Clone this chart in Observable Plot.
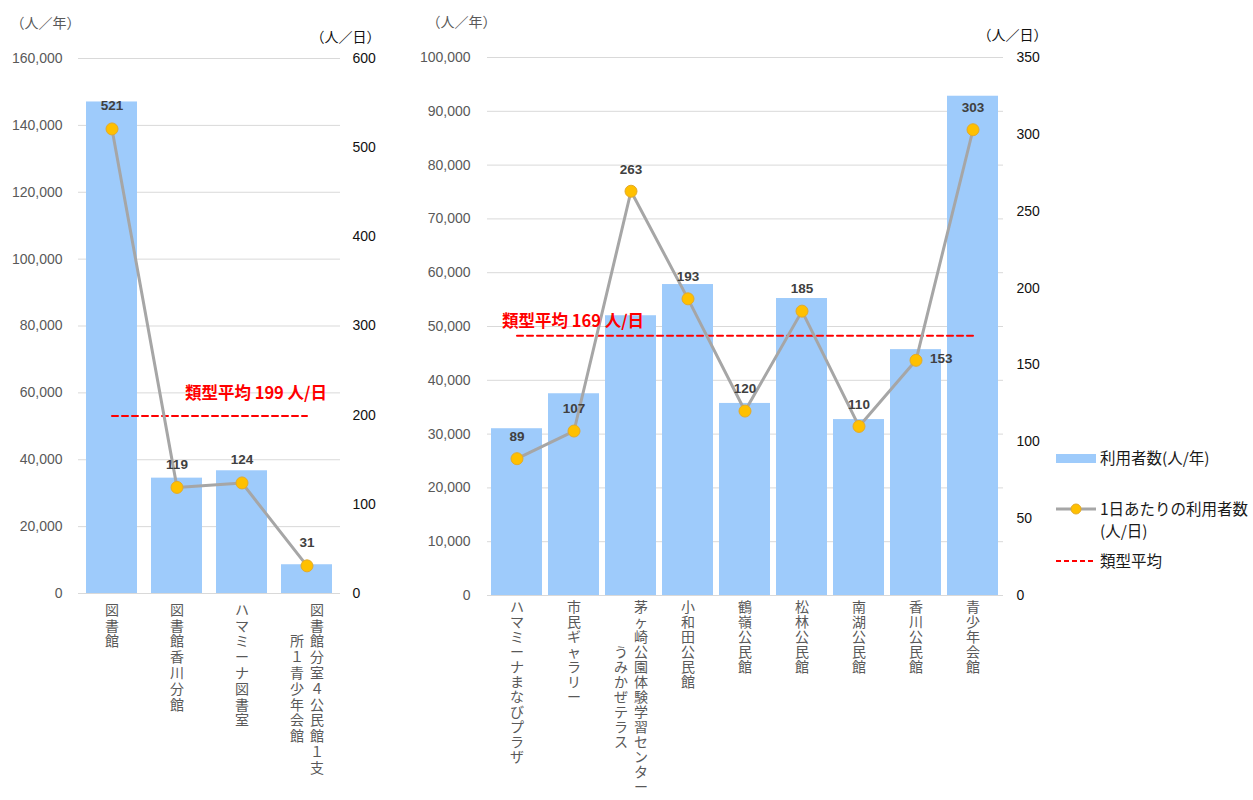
<!DOCTYPE html>
<html><head><meta charset="utf-8">
<script src="https://cdn.jsdelivr.net/npm/d3@7"></script>
<script src="https://cdn.jsdelivr.net/npm/@observablehq/plot@0.6"></script>
<style>
body{margin:0;background:#fff;font-family:"Liberation Sans","Noto Sans CJK JP",sans-serif;}
#wrap{position:relative;width:1253px;height:800px;overflow:hidden;}
#wrap svg.chart{position:absolute;top:0;}
#legend{position:absolute;left:1056px;top:440px;font-size:15.5px;color:#1a1a1a;font-family:"Noto Sans CJK JP",sans-serif;}
.li{position:absolute;left:0;white-space:nowrap;}
</style>
</head><body>
<div id="wrap"></div>
<script>
// ---- data ----
const leftCats = ["図書館","図書館香川分館","ハマミーナ図書室","図書館分室４公民館１支所１青少年会館"];
const leftLines = [["図書館"],["図書館香川分館"],["ハマミーナ図書室"],["図書館分室４公民館１支","所１青少年会館"]];
const leftYear = [147000, 34500, 36700, 8600];
const leftDay = [521, 119, 124, 31];
const leftAvg = 199;
const leftYTicks = [0,20000,40000,60000,80000,100000,120000,140000,160000];
const leftDayTicks = [0,100,200,300,400,500,600];

const rightCats = ["ハマミーナまなびプラザ","市民ギャラリー","茅ヶ崎公園体験学習センターうみかぜテラス","小和田公民館","鶴嶺公民館","松林公民館","南湖公民館","香川公民館","青少年会館"];
const rightLines = [["ハマミーナまなびプラザ"],["市民ギャラリー"],["茅ヶ崎公園体験学習センター","うみかぜテラス"],["小和田公民館"],["鶴嶺公民館"],["松林公民館"],["南湖公民館"],["香川公民館"],["青少年会館"]];
const rightYear = [31000, 37500, 52000, 57800, 35700, 55200, 32700, 45700, 92800];
const rightDay = [89, 107, 263, 193, 120, 185, 110, 153, 303];
const rightAvg = 169;
const rightYTicks = [0,10000,20000,30000,40000,50000,60000,70000,80000,90000,100000];
const rightDayTicks = [0,50,100,150,200,250,300,350];

const unitYear = "（人／年）";
const unitDay = "（人／日）";
const avgLabel = v => `類型平均 ${v} 人/日`;

const FONT = "'Liberation Sans','Noto Sans CJK JP',sans-serif";
const JFONT = "'Noto Sans CJK JP',sans-serif";
const vert = s => [...s].join("\n");   // stack characters for vertical Japanese labels

function makeChart(o){
  const factor = o.yMax / o.dayMax;
  const rows = o.cats.map((c,i)=>({cat:c, year:o.year[i], day:o.day[i], dayS:o.day[i]*factor}));
  const sideSet = new Set(o.sideLabels || []);
  const labRows = [];
  o.lines.forEach((ls,i)=>ls.forEach((t,j)=>labRows.push({cat:o.cats[i], text:t, j, n:ls.length, len0:[...ls[0]].length, len:[...t].length})));
  const fs = 14, lh = o.lh, pitch = fs*lh;
  const single = labRows.filter(d=>d.n===1);
  const col0 = labRows.filter(d=>d.n>1 && d.j===0);
  const col1 = labRows.filter(d=>d.j===1);
  const l1dy = col1.length ? (col1[0].len0 - col1[0].len)/2*pitch : 0;
  const avgPts = [{cat:o.cats[0], v:o.avg*factor},{cat:o.cats[o.cats.length-1], v:o.avg*factor}];
  const labOpts = {x:"cat", text:d=>vert(d.text), frameAnchor:"bottom", lineAnchor:"top", lineHeight:lh, fill:"#595959", fontFamily:JFONT, fontSize:fs, ariaLabel:"xlab"};
  const valOpts = {x:"cat", y:"dayS", text:d=>String(d.day), fill:"#404040", fontWeight:"bold", fontSize:13.5};
  const svg = Plot.plot({
    width:o.width, height:800,
    marginTop:o.mt, marginBottom:o.mb, marginLeft:o.ml, marginRight:o.mr,
    style:{fontFamily:FONT, fontSize:"14px", background:"transparent", overflow:"visible"},
    x:{domain:o.cats, paddingInner:o.pi, paddingOuter:o.po, axis:null},
    y:{domain:[0,o.yMax], axis:null},
    marks:[
      Plot.gridY(o.yTicks, {stroke:"#d9d9d9", strokeOpacity:1, strokeWidth:1}),
      Plot.barY(rows, {x:"cat", y:"year", fill:"#9ecbfb"}),
      Plot.axisY(o.yTicks, {anchor:"left", tickSize:0, tickPadding:o.lp, tickFormat:d3.format(","), color:"#595959", fontSize:14}),
      Plot.axisY(o.dayTicks.map(v=>v*factor), {anchor:"right", tickSize:0, tickPadding:o.rp, tickFormat:d=>String(Math.round(d/factor)), color:"#111", textAnchor:"start", fontSize:14}),
      Plot.line(avgPts, {x:"cat", y:"v", stroke:"#ff0000", strokeWidth:2, strokeDasharray:"6,4"}),
      Plot.line(rows, {x:"cat", y:"dayS", stroke:"#a6a6a6", strokeWidth:3}),
      Plot.dot(rows, {x:"cat", y:"dayS", r:6, fill:"#ffc000", stroke:"#e3aa2a", strokeWidth:1}),
      Plot.text(rows.filter(d=>!sideSet.has(d.cat)), {...valOpts, dy:o.ldy}),
      Plot.text(rows.filter(d=>sideSet.has(d.cat)), {...valOpts, textAnchor:"start", dx:14, dy:-2}),
      Plot.text([avgLabel(o.avg)], {x:()=>o.avgAt==="end"?o.cats[o.cats.length-1]:o.cats[0], y:()=>o.avg*factor, text:d=>d, textAnchor:o.avgAt, dx:o.adx, dy:o.ady, fill:"#ff0000", fontWeight:"bold", fontSize:16.5, fontFamily:JFONT}),
      Plot.text([unitYear], {frameAnchor:"top-left", text:d=>d, textAnchor:"start", dx:o.uyDx, dy:-40, fill:"#595959", fontFamily:JFONT, fontSize:14}),
      Plot.text([unitDay], {frameAnchor:"top-right", text:d=>d, textAnchor:"end", dx:o.udDx, dy:o.udDy, fill:"#111", fontFamily:JFONT, fontSize:14}),
      Plot.text(single, {...labOpts, dy:o.xdy}),
      Plot.text(col0, {...labOpts, dy:o.xdy, dx:10}),
      Plot.text(col1, {...labOpts, dy:o.xdy + l1dy, dx:-10})
    ]
  });
  svg.classList.add("chart");
  svg.style.left = o.left + "px";
  // turn long-vowel marks upright-vertical as in vertical Japanese typesetting
  d3.select(svg).selectAll('g[aria-label="xlab"] tspan').each(function(){
    if (this.textContent !== "ー") return;
    const t = d3.select(this);
    t.attr("rotate", 90).attr("dx", "0.12em");
    const y = t.attr("y");
    if (y && /em$/.test(y)) t.attr("y", (parseFloat(y) - 0.88).toFixed(3) + "em");
    else t.attr("dy", "-0.88em");
  });
  return svg;
}

const wrap = document.getElementById("wrap");
wrap.appendChild(makeChart({
  cats:leftCats, lines:leftLines, year:leftYear, day:leftDay, avg:leftAvg,
  yMax:160000, dayMax:600, yTicks:leftYTicks, dayTicks:leftDayTicks,
  width:400, left:0, mt:58, mb:207, ml:78, mr:60, pi:0.22, po:0.1, lh:1.13,
  lp:16, rp:12, ldy:-23, avgAt:"end", adx:20, ady:-22, uyDx:-68, udDx:40, udDy:-26, xdy:10
}));
wrap.appendChild(makeChart({
  cats:rightCats, lines:rightLines, year:rightYear, day:rightDay, avg:rightAvg,
  yMax:100000, dayMax:350, yTicks:rightYTicks, dayTicks:rightDayTicks, sideLabels:["香川公民館"],
  width:660, left:400, mt:57, mb:205, ml:87, mr:57, pi:0.1, po:0.05, lh:1.07,
  lp:17, rp:13, ldy:-22, avgAt:"start", adx:-15, ady:-14, uyDx:-61, udDx:44, udDy:-27, xdy:6
}));

const legend = document.createElement("div");
legend.id = "legend";
legend.innerHTML = `
<div class="li" style="top:14px;width:40px;height:9px;background:#9ecbfb;"></div>
<div class="li" style="top:6px;left:44px;">利用者数(人/年)</div>
<svg class="li" style="top:60px;" width="42" height="18"><line x1="0" y1="9" x2="40" y2="9" stroke="#a6a6a6" stroke-width="3"/><circle cx="20" cy="9" r="5" fill="#ffc000" stroke="#e3aa2a"/></svg>
<div class="li" style="top:57px;left:44px;line-height:22px;">1日あたりの利用者数<br>(人/日)</div>
<svg class="li" style="top:112px;" width="42" height="18"><line x1="0" y1="9" x2="40" y2="9" stroke="#ff0000" stroke-width="2" stroke-dasharray="5,3"/></svg>
<div class="li" style="top:109px;left:44px;">類型平均</div>`;
wrap.appendChild(legend);
</script>
</body></html>
